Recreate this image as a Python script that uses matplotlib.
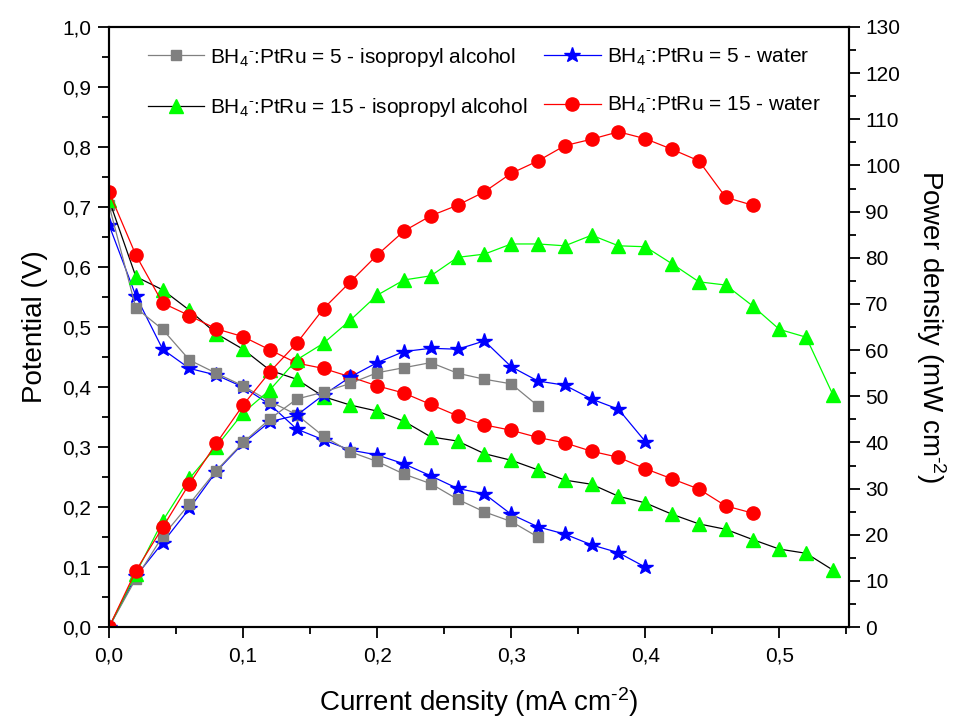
import matplotlib
matplotlib.use("Agg")
import matplotlib.pyplot as plt
from matplotlib.ticker import MultipleLocator, FuncFormatter

plt.rcParams['font.family'] = ['Liberation Sans', 'DejaVu Sans']
plt.rcParams['mathtext.fontset'] = 'custom'
plt.rcParams['mathtext.rm'] = 'Liberation Sans'
plt.rcParams['mathtext.it'] = 'Liberation Sans:italic'

# current density steps (mA cm-2), shared by all series
current = [0.00, 0.02, 0.04, 0.06, 0.08, 0.10, 0.12, 0.14, 0.16, 0.18,
           0.20, 0.22, 0.24, 0.26, 0.28, 0.30, 0.32, 0.34, 0.36, 0.38,
           0.40, 0.42, 0.44, 0.46, 0.48, 0.50, 0.52, 0.54]

# BH4-:PtRu = 5 - isopropyl alcohol
v_5_ipa = [0.703, 0.532, 0.496, 0.445, 0.423, 0.402, 0.376, 0.354, 0.318, 0.292,
           0.276, 0.255, 0.239, 0.213, 0.192, 0.176, 0.150]
p_5_ipa = [0.0, 10.5, 19.7, 26.7, 33.9, 40.0, 45.1, 49.4, 50.9, 52.8,
           55.1, 56.2, 57.3, 55.0, 53.7, 52.7, 47.9]

# BH4-:PtRu = 5 - water
v_5_water = [0.670, 0.552, 0.463, 0.431, 0.420, 0.400, 0.371, 0.330, 0.312, 0.295,
             0.287, 0.272, 0.252, 0.231, 0.222, 0.188, 0.167, 0.155, 0.137, 0.124,
             0.100]
p_5_water = [0.0, 11.0, 18.3, 25.7, 33.7, 39.8, 44.5, 45.9, 50.3, 54.2,
             57.3, 59.7, 60.4, 60.2, 62.0, 56.4, 53.3, 52.4, 49.4, 47.2,
             40.2]

# BH4-:PtRu = 15 - isopropyl alcohol
v_15_ipa = [0.712, 0.584, 0.562, 0.528, 0.489, 0.463, 0.428, 0.413, 0.384, 0.370,
            0.360, 0.343, 0.317, 0.310, 0.289, 0.278, 0.262, 0.245, 0.238, 0.218,
            0.207, 0.188, 0.172, 0.163, 0.146, 0.130, 0.123, 0.095]
p_15_ipa = [0.0, 11.6, 23.0, 32.2, 39.1, 46.4, 51.4, 57.9, 61.5, 66.5,
            71.9, 75.2, 76.1, 80.1, 80.8, 83.0, 83.0, 82.6, 84.9, 82.6,
            82.4, 78.7, 74.8, 74.1, 69.6, 64.5, 62.8, 50.3]

# BH4-:PtRu = 15 - water
v_15_water = [0.725, 0.620, 0.540, 0.519, 0.497, 0.484, 0.462, 0.440, 0.431, 0.417,
              0.402, 0.390, 0.371, 0.352, 0.337, 0.328, 0.316, 0.307, 0.293, 0.283,
              0.264, 0.247, 0.230, 0.202, 0.190]
p_15_water = [0.0, 12.2, 21.6, 31.1, 39.8, 48.1, 55.3, 61.5, 69.0, 74.8,
              80.6, 85.8, 89.1, 91.4, 94.3, 98.3, 101.0, 104.3, 105.7, 107.3,
              105.8, 103.5, 101.0, 93.1, 91.4]

labels = [
    r'BH$_4$$^{\text{-}}$:PtRu = 5 - isopropyl alcohol',
    r'BH$_4$$^{\text{-}}$:PtRu = 5 - water',
    r'BH$_4$$^{\text{-}}$:PtRu = 15 - isopropyl alcohol',
    r'BH$_4$$^{\text{-}}$:PtRu = 15 - water',
]

# (potential, power, marker, marker colour, potential line colour, power line colour, marker size, label)
series = [
    (v_5_water, p_5_water, '*', '#0000FF', '#0000FF', '#0000FF', 11.5, labels[1]),
    (v_5_ipa, p_5_ipa, 's', '#808080', '#808080', '#808080', 7.5, labels[0]),
    (v_15_ipa, p_15_ipa, '^', '#00FF00', 'black', '#00FF00', 10, labels[2]),
    (v_15_water, p_15_water, 'o', '#FF0000', '#FF0000', '#FF0000', 9.5, labels[3]),
]

fig = plt.figure(figsize=(9.54, 7.2), dpi=100)
ax = fig.add_axes([0.1143, 0.129, 0.7757, 0.8335])
ax2 = ax.twinx()

handles = {}
for v, p, marker, mcol, vline, pline, ms, label in series:
    h, = ax.plot(current[:len(v)], v, color=vline, lw=0.9, marker=marker, ms=ms,
                 mfc=mcol, mec=mcol, label=label)
    ax2.plot(current[:len(p)], p, color=pline, lw=0.9, marker=marker, ms=ms,
             mfc=mcol, mec=mcol)
    handles[label] = h

ax.set_xlim(0, 0.552)
ax.set_ylim(0, 1.0)
ax2.set_ylim(0, 130)

comma = FuncFormatter(lambda val, pos: f"{val:.1f}".replace('.', ','))
ax.xaxis.set_major_locator(MultipleLocator(0.1))
ax.xaxis.set_minor_locator(MultipleLocator(0.05))
ax.yaxis.set_major_locator(MultipleLocator(0.1))
ax.yaxis.set_minor_locator(MultipleLocator(0.05))
ax.xaxis.set_major_formatter(comma)
ax.yaxis.set_major_formatter(comma)
ax2.yaxis.set_major_locator(MultipleLocator(10))
ax2.yaxis.set_minor_locator(MultipleLocator(5))

for a in (ax, ax2):
    a.tick_params(which='major', direction='out', length=8, width=1.3, labelsize=15)
    a.tick_params(which='minor', direction='out', length=5, width=1.3)
    for s in a.spines.values():
        s.set_linewidth(1.5)
ax.tick_params(axis='x', pad=6)
ax.tick_params(axis='y', pad=5)

ax.set_xlabel(r'Current density (mA cm$^{\text{-2}}$)', fontsize=20, labelpad=14)
ax.set_ylabel('Potential (V)', fontsize=20, labelpad=10)
ax2.set_ylabel(r'Power density (mW cm$^{\text{-2}}$)', fontsize=20, rotation=270, labelpad=34)

order = [labels[0], labels[2], labels[1], labels[3]]
ax2.legend([handles[l] for l in order], order, ncol=2, frameon=False, fontsize=15,
           loc='upper left', bbox_to_anchor=(0.027, 1.0), handlelength=2.7,
           handletextpad=0.3, columnspacing=0.8, labelspacing=1.3)

fig.savefig('out.png', dpi=100)
